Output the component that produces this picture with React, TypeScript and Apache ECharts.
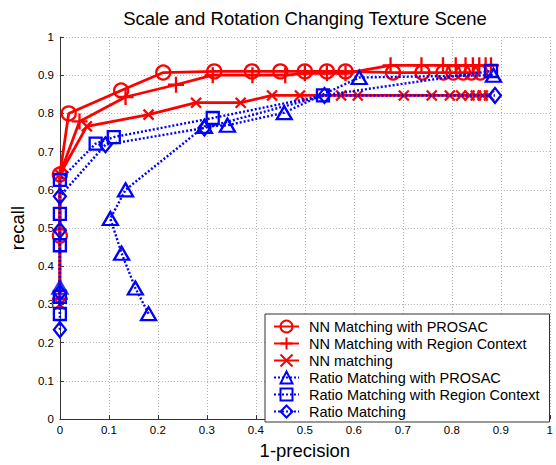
import React, { useEffect, useRef } from "react";
import * as echarts from "echarts";

const chartTitle = "Scale and Rotation Changing Texture Scene";
const xName = "1-precision";
const yName = "recall";
const seriesNames = [
  "NN Matching with PROSAC",
  "NN Matching with Region Context",
  "NN matching",
  "Ratio Matching with PROSAC",
  "Ratio Matching with Region Context",
  "Ratio Matching",
];

const nnProsacX = [0, 0, 0.018, 0.125, 0.211, 0.315, 0.392, 0.45, 0.5, 0.545, 0.583, 0.68, 0.74, 0.783, 0.803, 0.823, 0.84, 0.858];
const nnProsacY = [0.48, 0.64, 0.8, 0.86, 0.907, 0.91, 0.91, 0.91, 0.91, 0.91, 0.91, 0.907, 0.907, 0.907, 0.907, 0.907, 0.907, 0.907];

const nnRegionX = [0, 0, 0.04, 0.134, 0.237, 0.312, 0.393, 0.46, 0.5, 0.545, 0.583, 0.675, 0.738, 0.782, 0.808, 0.828, 0.843, 0.856, 0.869, 0.88];
const nnRegionY = [0.315, 0.64, 0.779, 0.843, 0.875, 0.9, 0.9, 0.9, 0.905, 0.905, 0.905, 0.926, 0.926, 0.926, 0.926, 0.926, 0.926, 0.926, 0.926, 0.926];

const nnX = [0, 0, 0.055, 0.181, 0.278, 0.369, 0.433, 0.49, 0.574, 0.608, 0.702, 0.759, 0.796, 0.819, 0.836, 0.849, 0.863, 0.876];
const nnY = [0.3, 0.64, 0.766, 0.797, 0.828, 0.828, 0.847, 0.847, 0.847, 0.847, 0.847, 0.847, 0.847, 0.847, 0.847, 0.847, 0.847, 0.847];

const ratioProsacX = [0.181, 0.154, 0.126, 0.103, 0.134, 0.295, 0.342, 0.458, 0.611, 0.885];
const ratioProsacY = [0.276, 0.343, 0.434, 0.525, 0.6, 0.766, 0.769, 0.802, 0.894, 0.9];
const ratioProsacLoneX = [0];
const ratioProsacLoneY = [0.345];

const ratioRegionX = [0, 0, 0, 0, 0, 0.073, 0.11, 0.312, 0.537, 0.88];
const ratioRegionY = [0.275, 0.32, 0.455, 0.537, 0.626, 0.721, 0.738, 0.788, 0.847, 0.911];

const ratioX = [0, 0, 0, 0, 0.093, 0.295, 0.54, 0.888];
const ratioY = [0.234, 0.33, 0.494, 0.583, 0.718, 0.762, 0.847, 0.847];

const zip = (xs: number[], ys: number[]) => xs.map((x, i) => [x, ys[i]]);

const FONT = "'Liberation Sans', Arial, Helvetica, sans-serif";
const RED = "#ff0000";
const BLUE = "#0000ff";

const PLUS = "path://M5,0L5,10M0,5L10,5";
const CROSS = "path://M0,0L10,10M10,0L0,10";

function redSeries(name: string, data: number[][], symbol: string, size: any) {
  return {
    name,
    type: "line",
    data,
    symbol,
    symbolSize: size,
    showAllSymbol: true,
    lineStyle: { color: RED, width: 2.8, type: "solid" },
    itemStyle: { color: "rgba(0,0,0,0)", borderColor: RED, borderWidth: 2.3 },
    emphasis: { disabled: true },
    z: 2,
  };
}

function blueSeries(name: string, data: number[][], symbol: string, size: any) {
  return {
    name,
    type: "line",
    data,
    symbol,
    symbolSize: size,
    showAllSymbol: true,
    lineStyle: { color: BLUE, width: 2.4, type: [2, 2] },
    itemStyle: { color: "rgba(0,0,0,0)", borderColor: BLUE, borderWidth: 2.3 },
    emphasis: { disabled: true },
    z: 3,
  };
}

export default function App() {
  const ref = useRef<HTMLDivElement>(null);
  useEffect(() => {
    document.body.style.margin = "0";
    if (!ref.current) return;
    const chart = echarts.init(ref.current, null, { renderer: "svg" });
    const axisCommon = {
      type: "value",
      min: 0,
      max: 1,
      interval: 0.1,
      axisLine: { show: true, lineStyle: { color: "#333", width: 1 } },
      axisTick: { show: true, inside: true, length: 4, lineStyle: { color: "#333" } },
      splitLine: { show: true, lineStyle: { color: "#b0b0b0", type: [1, 2], width: 1 } },
      axisLabel: { color: "#000", fontSize: 11.5, fontFamily: FONT },
      nameTextStyle: { color: "#000", fontSize: 18.5, fontFamily: FONT },
    };
    chart.setOption({
      animation: false,
      backgroundColor: "#fff",
      grid: { left: 57, right: 3, top: 37, bottom: 37, containLabel: false },
      xAxis: {
        ...axisCommon,
        name: xName,
        nameLocation: "middle",
        nameGap: 15,
        axisLabel: { ...axisCommon.axisLabel, margin: 5 },
      },
      yAxis: {
        ...axisCommon,
        name: yName,
        nameLocation: "middle",
        nameGap: 20,
        nameRotate: 90,
        axisLabel: { ...axisCommon.axisLabel, margin: 6 },
      },
      legend: {
        orient: "vertical",
        left: 265,
        top: 314,
        padding: [5, 10, 3, 8],
        itemGap: 2,
        itemWidth: 25,
        itemHeight: 15,
        backgroundColor: "#fff",
        borderColor: "#333",
        borderWidth: 1,
        borderRadius: 0,
        selectedMode: false,
        data: seriesNames,
        textStyle: { color: "#000", fontSize: 14.5, fontFamily: FONT, padding: [0, 0, 0, 5] },
      },
      graphic: [
        {
          type: "text",
          x: 305,
          y: 18.5,
          style: {
            text: chartTitle,
            fontSize: 18.5,
            fontFamily: FONT,
            fill: "#000",
            textAlign: "center",
            textVerticalAlign: "middle",
          },
        },
      ],
      series: [
        redSeries(seriesNames[0], zip(nnProsacX, nnProsacY), "circle", 14),
        redSeries(seriesNames[1], zip(nnRegionX, nnRegionY), PLUS, 16),
        redSeries(seriesNames[2], zip(nnX, nnY), CROSS, 10),
        blueSeries(seriesNames[3], zip(ratioProsacX, ratioProsacY), "triangle", [15, 13]),
        {
          ...blueSeries(seriesNames[3], zip(ratioProsacLoneX, ratioProsacLoneY), "triangle", [15, 13]),
          type: "scatter",
        },
        blueSeries(seriesNames[4], zip(ratioRegionX, ratioRegionY), "rect", 12),
        blueSeries(seriesNames[5], zip(ratioX, ratioY), "diamond", [12, 15]),
      ],
    });
    return () => chart.dispose();
  }, []);
  return (
    <div
      ref={ref}
      style={{ position: "absolute", left: 0, top: 0, width: 556, height: 465 }}
    />
  );
}
